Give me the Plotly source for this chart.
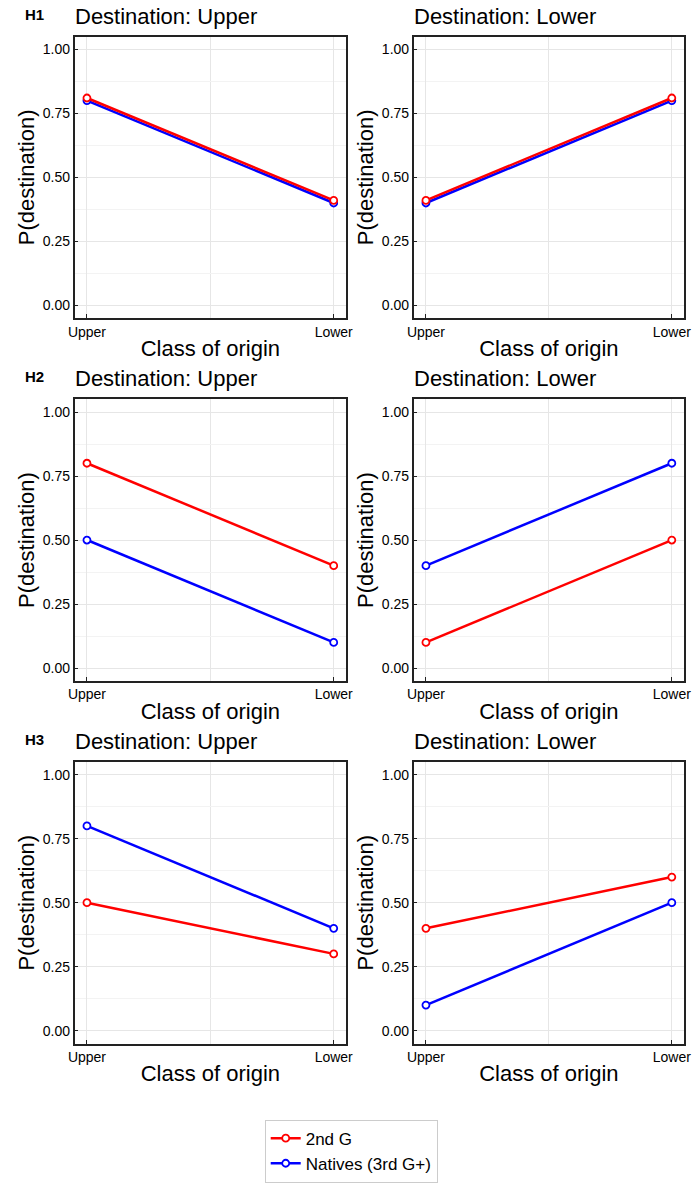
import plotly.graph_objects as go

W, H = 696, 1183

origin_classes = ["Upper", "Lower"]
origin_x = [0, 1]
series_names = ["2nd G", "Natives (3rd G+)"]
series_colors = ["#ff0000", "#0000ff"]
hyp_labels = ["H1", "H2", "H3"]
destinations = ["Upper", "Lower"]

# (2nd G, Natives) per hypothesis and destination
h1_upper_2nd = [0.81, 0.41]
h1_upper_nat = [0.80, 0.40]
h1_lower_2nd = [0.41, 0.81]
h1_lower_nat = [0.40, 0.80]
h2_upper_2nd = [0.80, 0.40]
h2_upper_nat = [0.50, 0.10]
h2_lower_2nd = [0.10, 0.50]
h2_lower_nat = [0.40, 0.80]
h3_upper_2nd = [0.50, 0.30]
h3_upper_nat = [0.80, 0.40]
h3_lower_2nd = [0.40, 0.60]
h3_lower_nat = [0.10, 0.50]

panels = [
    [(h1_upper_2nd, h1_upper_nat), (h1_lower_2nd, h1_lower_nat)],
    [(h2_upper_2nd, h2_upper_nat), (h2_lower_2nd, h2_lower_nat)],
    [(h3_upper_2nd, h3_upper_nat), (h3_lower_2nd, h3_lower_nat)],
]

yticks = [0, 0.25, 0.5, 0.75, 1.0]
ytick_text = ["0.00", "0.25", "0.50", "0.75", "1.00"]

col_px = [(69, 346), (415, 691)]
row_top_px = [37, 404, 771]
plot_h = 285

FONT = "Liberation Sans, Arial, Helvetica, sans-serif"
fig = go.Figure()
layout = dict(
    width=W, height=H,
    margin=dict(l=0, r=0, t=0, b=0),
    paper_bgcolor="white", plot_bgcolor="white",
    font=dict(family=FONT, color="black"),
    annotations=[],
)

idx = 0
for r in range(3):
    for c in range(2):
        idx += 1
        xa = "xaxis" if idx == 1 else f"xaxis{idx}"
        ya = "yaxis" if idx == 1 else f"yaxis{idx}"
        xref = "x" if idx == 1 else f"x{idx}"
        yref = "y" if idx == 1 else f"y{idx}"
        x0, x1 = col_px[c]
        top = row_top_px[r]
        bot = top + plot_h
        layout[xa] = dict(
            domain=[x0 / W, x1 / W], anchor=yref, range=[-0.05, 1.05],
            tickvals=origin_x, ticktext=origin_classes,
            showgrid=True, gridcolor="#e6e6e6", gridwidth=1,
            minor=dict(tick0=0, dtick=0.5, showgrid=True, gridcolor="#e6e6e6", ticks=""),
            showline=True, mirror=True, linecolor="#222222", linewidth=1.5,
            ticks="inside", ticklen=4, tickcolor="#222222",
            tickfont=dict(size=14), zeroline=False,
            title=dict(text="Class of origin", font=dict(size=22), standoff=2),
            fixedrange=True,
        )
        layout[ya] = dict(
            domain=[1 - bot / H, 1 - top / H], anchor=xref, range=[-0.05, 1.05],
            tickvals=yticks, ticktext=ytick_text,
            showgrid=True, gridcolor="#e6e6e6", gridwidth=1,
            minor=dict(tick0=0.125, dtick=0.25, showgrid=True, gridcolor="#f3f3f3", ticks=""),
            showline=True, mirror=True, linecolor="#222222", linewidth=1.5,
            ticks="inside", ticklen=4, tickcolor="#222222",
            tickfont=dict(size=14), zeroline=False,
            title=dict(text="P(destination)", font=dict(size=22), standoff=2),
            fixedrange=True,
        )
        second, natives = panels[r][c]
        for si, vals in [(1, natives), (0, second)]:
            fig.add_trace(go.Scatter(
                x=origin_x, y=vals, mode="lines+markers",
                name=series_names[si], legendgroup=series_names[si],
                showlegend=(idx == 1), legendrank=si + 1,
                line=dict(color=series_colors[si], width=2.5),
                marker=dict(symbol="circle", size=7, color="white",
                            line=dict(color=series_colors[si], width=1.8)),
                xaxis=xref, yaxis=yref,
            ))
        layout["annotations"].append(dict(
            text=f"Destination: {destinations[c]}", xref="paper", yref="paper",
            x=(x0 - 2) / W, y=1 - (top - 6) / H, xanchor="left", yanchor="bottom",
            showarrow=False, font=dict(size=22, family=FONT),
        ))
    layout["annotations"].append(dict(
        text=f"<b>{hyp_labels[r]}</b>", xref="paper", yref="paper",
        x=16 / W, y=1 - (row_top_px[r] - 12) / H, xanchor="left", yanchor="bottom",
        showarrow=False, font=dict(size=15, family=FONT),
    ))

layout["legend"] = dict(
    x=263 / W, y=1 - 1133 / H, xanchor="left", yanchor="top",
    bordercolor="#cccccc", borderwidth=1, bgcolor="white",
    font=dict(size=17, family=FONT), tracegroupgap=0,
    itemwidth=30,
)
fig.update_layout(**layout)
fig.write_html(
    "out.html",
    config={"displayModeBar": False},
    post_script="document.body.style.margin='0px';document.body.style.overflow='hidden';",
)
